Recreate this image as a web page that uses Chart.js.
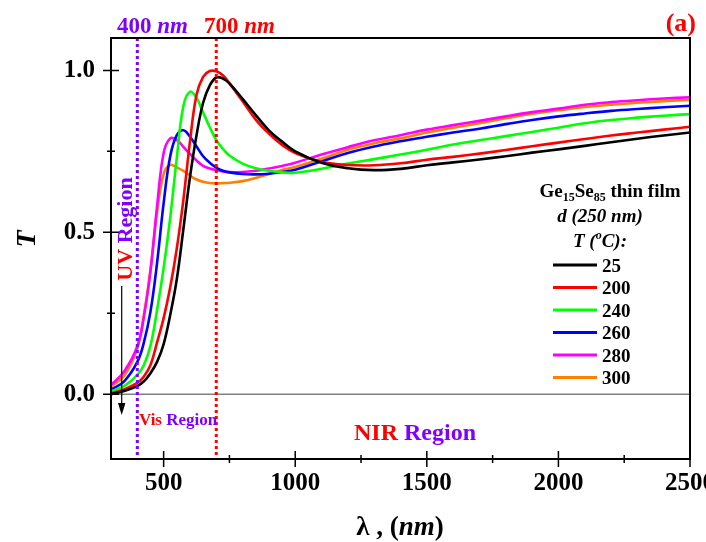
<!DOCTYPE html>
<html>
<head>
<meta charset="utf-8">
<script src="https://cdn.jsdelivr.net/npm/chart.js@4.4.0/dist/chart.umd.min.js"></script>
<style>
  html, body { margin: 0; padding: 0; background: #fff; }
</style>
</head>
<body>
<canvas id="transChart" width="706" height="542"></canvas>
<script>
// wavelength (nm) shared by all curves
const wavelengths = [300, 350, 400, 425, 450, 475, 500, 525, 550, 575, 600, 625, 650, 675, 700, 725, 750,
  800, 850, 900, 950, 1000, 1100, 1200, 1300, 1400, 1500, 1600, 1700, 1800, 1900, 2000, 2100, 2200, 2300, 2400, 2500];

// transmittance for each annealing temperature
const t25  = [0.000, 0.010, 0.025, 0.040, 0.065, 0.100, 0.155, 0.245, 0.355, 0.510, 0.670, 0.800, 0.900, 0.953, 0.978, 0.975, 0.960,
  0.912, 0.862, 0.815, 0.780, 0.750, 0.715, 0.698, 0.692, 0.696, 0.707, 0.716, 0.725, 0.735, 0.746, 0.756, 0.767, 0.778, 0.789, 0.799, 0.808];
const t200 = [0.003, 0.015, 0.035, 0.055, 0.090, 0.160, 0.235, 0.330, 0.450, 0.600, 0.780, 0.925, 0.980, 0.998, 0.997, 0.985, 0.960,
  0.905, 0.848, 0.805, 0.770, 0.745, 0.718, 0.708, 0.707, 0.713, 0.724, 0.733, 0.743, 0.754, 0.766, 0.777, 0.788, 0.799, 0.808, 0.817, 0.826];
const t240 = [0.008, 0.025, 0.060, 0.090, 0.150, 0.260, 0.390, 0.545, 0.730, 0.890, 0.934, 0.915, 0.870, 0.825, 0.785, 0.758, 0.737,
  0.712, 0.698, 0.690, 0.685, 0.684, 0.696, 0.712, 0.726, 0.740, 0.755, 0.771, 0.784, 0.797, 0.810, 0.823, 0.837, 0.847, 0.854, 0.860, 0.865];
const t260 = [0.014, 0.040, 0.100, 0.160, 0.255, 0.405, 0.590, 0.735, 0.800, 0.815, 0.795, 0.765, 0.735, 0.715, 0.700, 0.690, 0.685,
  0.680, 0.679, 0.681, 0.686, 0.693, 0.719, 0.745, 0.765, 0.781, 0.795, 0.808, 0.820, 0.834, 0.847, 0.858, 0.867, 0.875, 0.881, 0.886, 0.891];
const t280 = [0.029, 0.070, 0.148, 0.240, 0.380, 0.580, 0.745, 0.790, 0.785, 0.764, 0.742, 0.722, 0.705, 0.697, 0.692, 0.688, 0.686,
  0.686, 0.690, 0.697, 0.705, 0.715, 0.740, 0.763, 0.784, 0.800, 0.817, 0.831, 0.844, 0.858, 0.871, 0.882, 0.894, 0.902, 0.908, 0.913, 0.917];
const t300 = [0.024, 0.057, 0.142, 0.245, 0.385, 0.560, 0.680, 0.708, 0.700, 0.690, 0.675, 0.663, 0.656, 0.652, 0.651, 0.652, 0.653,
  0.658, 0.668, 0.680, 0.692, 0.702, 0.727, 0.755, 0.775, 0.790, 0.808, 0.823, 0.837, 0.852, 0.866, 0.877, 0.887, 0.894, 0.900, 0.905, 0.909];

const temps = ["25", "200", "240", "260", "280", "300"];
const seriesValues = [t25, t200, t240, t260, t280, t300];
const lineColors = ["#000000", "#ff0000", "#00ff00", "#0000ff", "#ff00ff", "#ff8000"];

const xTicks = [500, 1000, 1500, 2000, 2500];
const xMinorTicks = [750, 1250, 1750, 2250];
const yTicks = [0, 0.5, 1.0];
const yMinorTicks = [0.25, 0.75];
const markerNm = [400, 700];

const VIOLET = "#8000ff";
const RED = "#ff0000";
const SERIF = "'Liberation Serif', 'Times New Roman', serif";

// draw a row of differently styled text pieces
function drawRuns(ctx, runs, x, y, align) {
  let total = 0;
  runs.forEach(r => { ctx.font = r.font; total += ctx.measureText(r.text).width; });
  let cx = align === "center" ? x - total / 2 : (align === "right" ? x - total : x);
  ctx.textAlign = "left";
  ctx.textBaseline = "alphabetic";
  runs.forEach(r => {
    ctx.font = r.font;
    ctx.fillStyle = r.color || "#000";
    ctx.fillText(r.text, cx, y + (r.dy || 0));
    cx += ctx.measureText(r.text).width;
  });
}

const decorPlugin = {
  id: "decor",
  beforeDatasetsDraw(chart) {
    const { ctx, chartArea: a, scales: { y } } = chart;
    const y0 = y.getPixelForValue(0);
    ctx.save();
    ctx.strokeStyle = "#808080";
    ctx.lineWidth = 1.5;
    ctx.beginPath();
    ctx.moveTo(a.left, y0);
    ctx.lineTo(a.right, y0);
    ctx.stroke();
    ctx.restore();
  },
  afterDatasetsDraw(chart) {
    const { ctx, chartArea: a, scales: { x, y } } = chart;
    ctx.save();
    // 400 nm / 700 nm dotted markers
    ctx.lineWidth = 3;
    ctx.setLineDash([3, 3]);
    markerNm.forEach((nm, i) => {
      const px = x.getPixelForValue(nm);
      ctx.strokeStyle = i === 0 ? VIOLET : RED;
      ctx.beginPath();
      ctx.moveTo(px, a.top);
      ctx.lineTo(px, a.bottom);
      ctx.stroke();
    });
    ctx.setLineDash([]);

    // frame
    ctx.strokeStyle = "#000";
    ctx.lineWidth = 2;
    ctx.strokeRect(a.left, a.top, a.right - a.left, a.bottom - a.top);

    // ticks crossing the axes
    ctx.lineWidth = 1.5;
    ctx.beginPath();
    xTicks.forEach(v => { const px = x.getPixelForValue(v); ctx.moveTo(px, a.bottom - 8); ctx.lineTo(px, a.bottom + 8); });
    xMinorTicks.forEach(v => { const px = x.getPixelForValue(v); ctx.moveTo(px, a.bottom - 4); ctx.lineTo(px, a.bottom + 4); });
    yTicks.forEach(v => { const py = y.getPixelForValue(v); ctx.moveTo(a.left - 8, py); ctx.lineTo(a.left + 8, py); });
    yMinorTicks.forEach(v => { const py = y.getPixelForValue(v); ctx.moveTo(a.left - 4, py); ctx.lineTo(a.left + 4, py); });
    ctx.stroke();

    // arrow near the UV region
    ctx.lineWidth = 1.2;
    ctx.beginPath();
    ctx.moveTo(121.7, 286);
    ctx.lineTo(121.7, 405);
    ctx.stroke();
    ctx.fillStyle = "#000";
    ctx.beginPath();
    ctx.moveTo(118, 403);
    ctx.lineTo(125.4, 403);
    ctx.lineTo(121.7, 415);
    ctx.closePath();
    ctx.fill();
    ctx.restore();
  },
  afterDraw(chart) {
    const { ctx } = chart;
    ctx.save();
    const b23 = "bold 23px " + SERIF, bi23 = "italic bold 23px " + SERIF;
    drawRuns(ctx, [{ text: "400 ", font: b23, color: VIOLET }, { text: "nm", font: bi23, color: VIOLET }], 117, 33, "left");
    drawRuns(ctx, [{ text: "700 ", font: b23, color: RED }, { text: "nm", font: bi23, color: RED }], 204, 33, "left");
    drawRuns(ctx, [{ text: "(a)", font: "bold 26px " + SERIF, color: RED }], 696, 31, "right");

    // region labels
    drawRuns(ctx, [{ text: "Vis ", font: "bold 17px " + SERIF, color: RED }, { text: "Region", font: "bold 17px " + SERIF, color: VIOLET }], 139, 425, "left");
    drawRuns(ctx, [{ text: "NIR ", font: "bold 24px " + SERIF, color: RED }, { text: "Region", font: "bold 24px " + SERIF, color: VIOLET }], 415, 440, "center");
    ctx.save();
    ctx.translate(132, 229);
    ctx.rotate(-Math.PI / 2);
    drawRuns(ctx, [{ text: "UV ", font: "bold 22px " + SERIF, color: RED }, { text: "Region", font: "bold 22px " + SERIF, color: VIOLET }], 0, 0, "center");
    ctx.restore();

    // axis titles
    drawRuns(ctx, [{ text: "\u03bb , (", font: "bold 27px " + SERIF }, { text: "nm", font: "italic bold 27px " + SERIF }, { text: ")", font: "bold 27px " + SERIF }], 400, 535, "center");
    ctx.save();
    ctx.translate(35, 239);
    ctx.rotate(-Math.PI / 2);
    drawRuns(ctx, [{ text: "T", font: "italic bold 28px " + SERIF }], 0, 0, "center");
    ctx.restore();

    // legend block
    const b19 = "bold 19px " + SERIF, s12 = "bold 12px " + SERIF, bi19 = "italic bold 19px " + SERIF;
    drawRuns(ctx, [
      { text: "Ge", font: b19 }, { text: "15", font: s12, dy: 4 }, { text: "Se", font: b19 }, { text: "85", font: s12, dy: 4 },
      { text: " thin film", font: b19 }], 610, 197, "center");
    drawRuns(ctx, [{ text: "d (250 nm)", font: bi19 }], 600, 222, "center");
    drawRuns(ctx, [{ text: "T (", font: bi19 }, { text: "o", font: "italic bold 12px " + SERIF, dy: -8 }, { text: "C):", font: bi19 }], 600, 247, "center");
    chart.data.datasets.forEach((ds, i) => {
      const ly = 265 + i * 22.5;
      ctx.strokeStyle = ds.borderColor;
      ctx.lineWidth = 3;
      ctx.beginPath();
      ctx.moveTo(553, ly);
      ctx.lineTo(597, ly);
      ctx.stroke();
      drawRuns(ctx, [{ text: ds.label, font: b19 }], 602, ly + 6.5, "left");
    });
    ctx.restore();
  }
};

const config = {
  type: "line",
  data: {
    datasets: seriesValues.map((vals, i) => ({
      label: temps[i],
      data: wavelengths.map((w, j) => ({ x: w, y: vals[j] })),
      borderColor: lineColors[i],
      borderWidth: 2.6,
      pointRadius: 0,
      fill: false,
      tension: 0.4
    }))
  },
  options: {
    responsive: false,
    animation: false,
    devicePixelRatio: 1,
    layout: { padding: { top: 38, right: 16, left: 0, bottom: 0 } },
    plugins: { legend: { display: false }, tooltip: { enabled: false } },
    scales: {
      x: {
        type: "linear",
        min: 300,
        max: 2500,
        grid: { display: false, drawTicks: false },
        border: { display: false },
        afterBuildTicks: s => { s.ticks = xTicks.map(v => ({ value: v })); },
        afterFit: s => { s.height = 83; s.paddingLeft = 0; s.paddingRight = 0; },
        ticks: { color: "#000", padding: 10, maxRotation: 0, callback: v => String(v), font: { family: SERIF, size: 25, weight: "bold" } }
      },
      y: {
        min: -0.2,
        max: 1.1,
        grid: { display: false, drawTicks: false },
        border: { display: false },
        afterBuildTicks: s => { s.ticks = yTicks.map(v => ({ value: v })); },
        afterFit: s => { s.width = 111; s.paddingTop = 0; s.paddingBottom = 0; },
        ticks: { color: "#000", padding: 16, callback: v => v.toFixed(1), font: { family: SERIF, size: 25, weight: "bold" } }
      }
    }
  },
  plugins: [decorPlugin]
};

new Chart(document.getElementById("transChart"), config);
</script>
</body>
</html>
